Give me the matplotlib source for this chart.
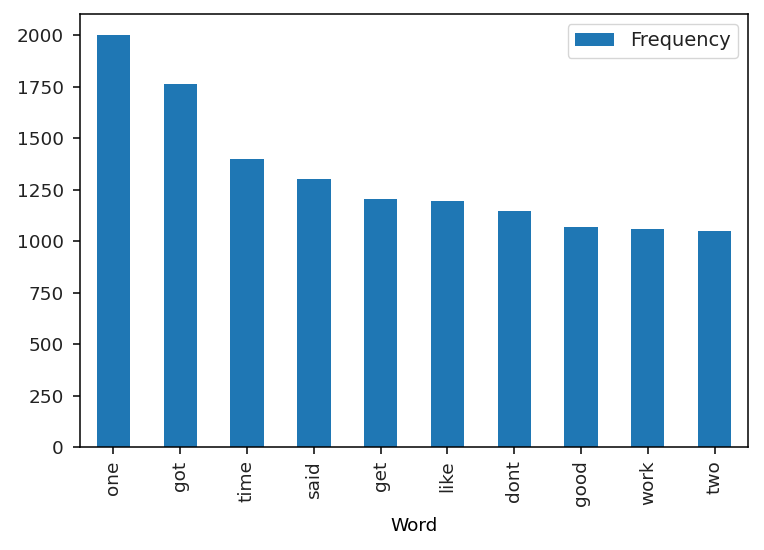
import matplotlib
import numpy as np
import pandas as pd

matplotlib.use("Agg")
import matplotlib.pyplot as plt

words = ["one", "got", "time", "said", "get", "like", "dont", "good", "work", "two"]
frequency = [2002, 1763, 1397, 1301, 1203, 1193, 1145, 1068, 1058, 1048]

plt.rcParams.update({
    "font.size": 13.3,
    "axes.linewidth": 1.1,
    "xtick.major.size": 4.7,
    "ytick.major.size": 4.7,
    "xtick.major.width": 1.1,
    "ytick.major.width": 1.1,
    "ytick.major.pad": 7,
    "xtick.major.pad": 5,
    "text.color": "#222222",
    "xtick.labelcolor": "#222222",
    "ytick.labelcolor": "#222222",
})

df = pd.DataFrame({"Word": words, "Frequency": frequency}).set_index("Word")

fig = plt.figure(figsize=(7.64, 5.5), dpi=100)
ax = fig.add_axes([80 / 764, 1 - 447 / 550, 668 / 764, 433 / 550])
df.plot(kind="bar", ax=ax, color="#1f77b4")
ax.set_xlabel("Word", labelpad=8)
ax.legend(loc="upper right", fontsize=14)
fig.savefig("out.png", dpi=100)
